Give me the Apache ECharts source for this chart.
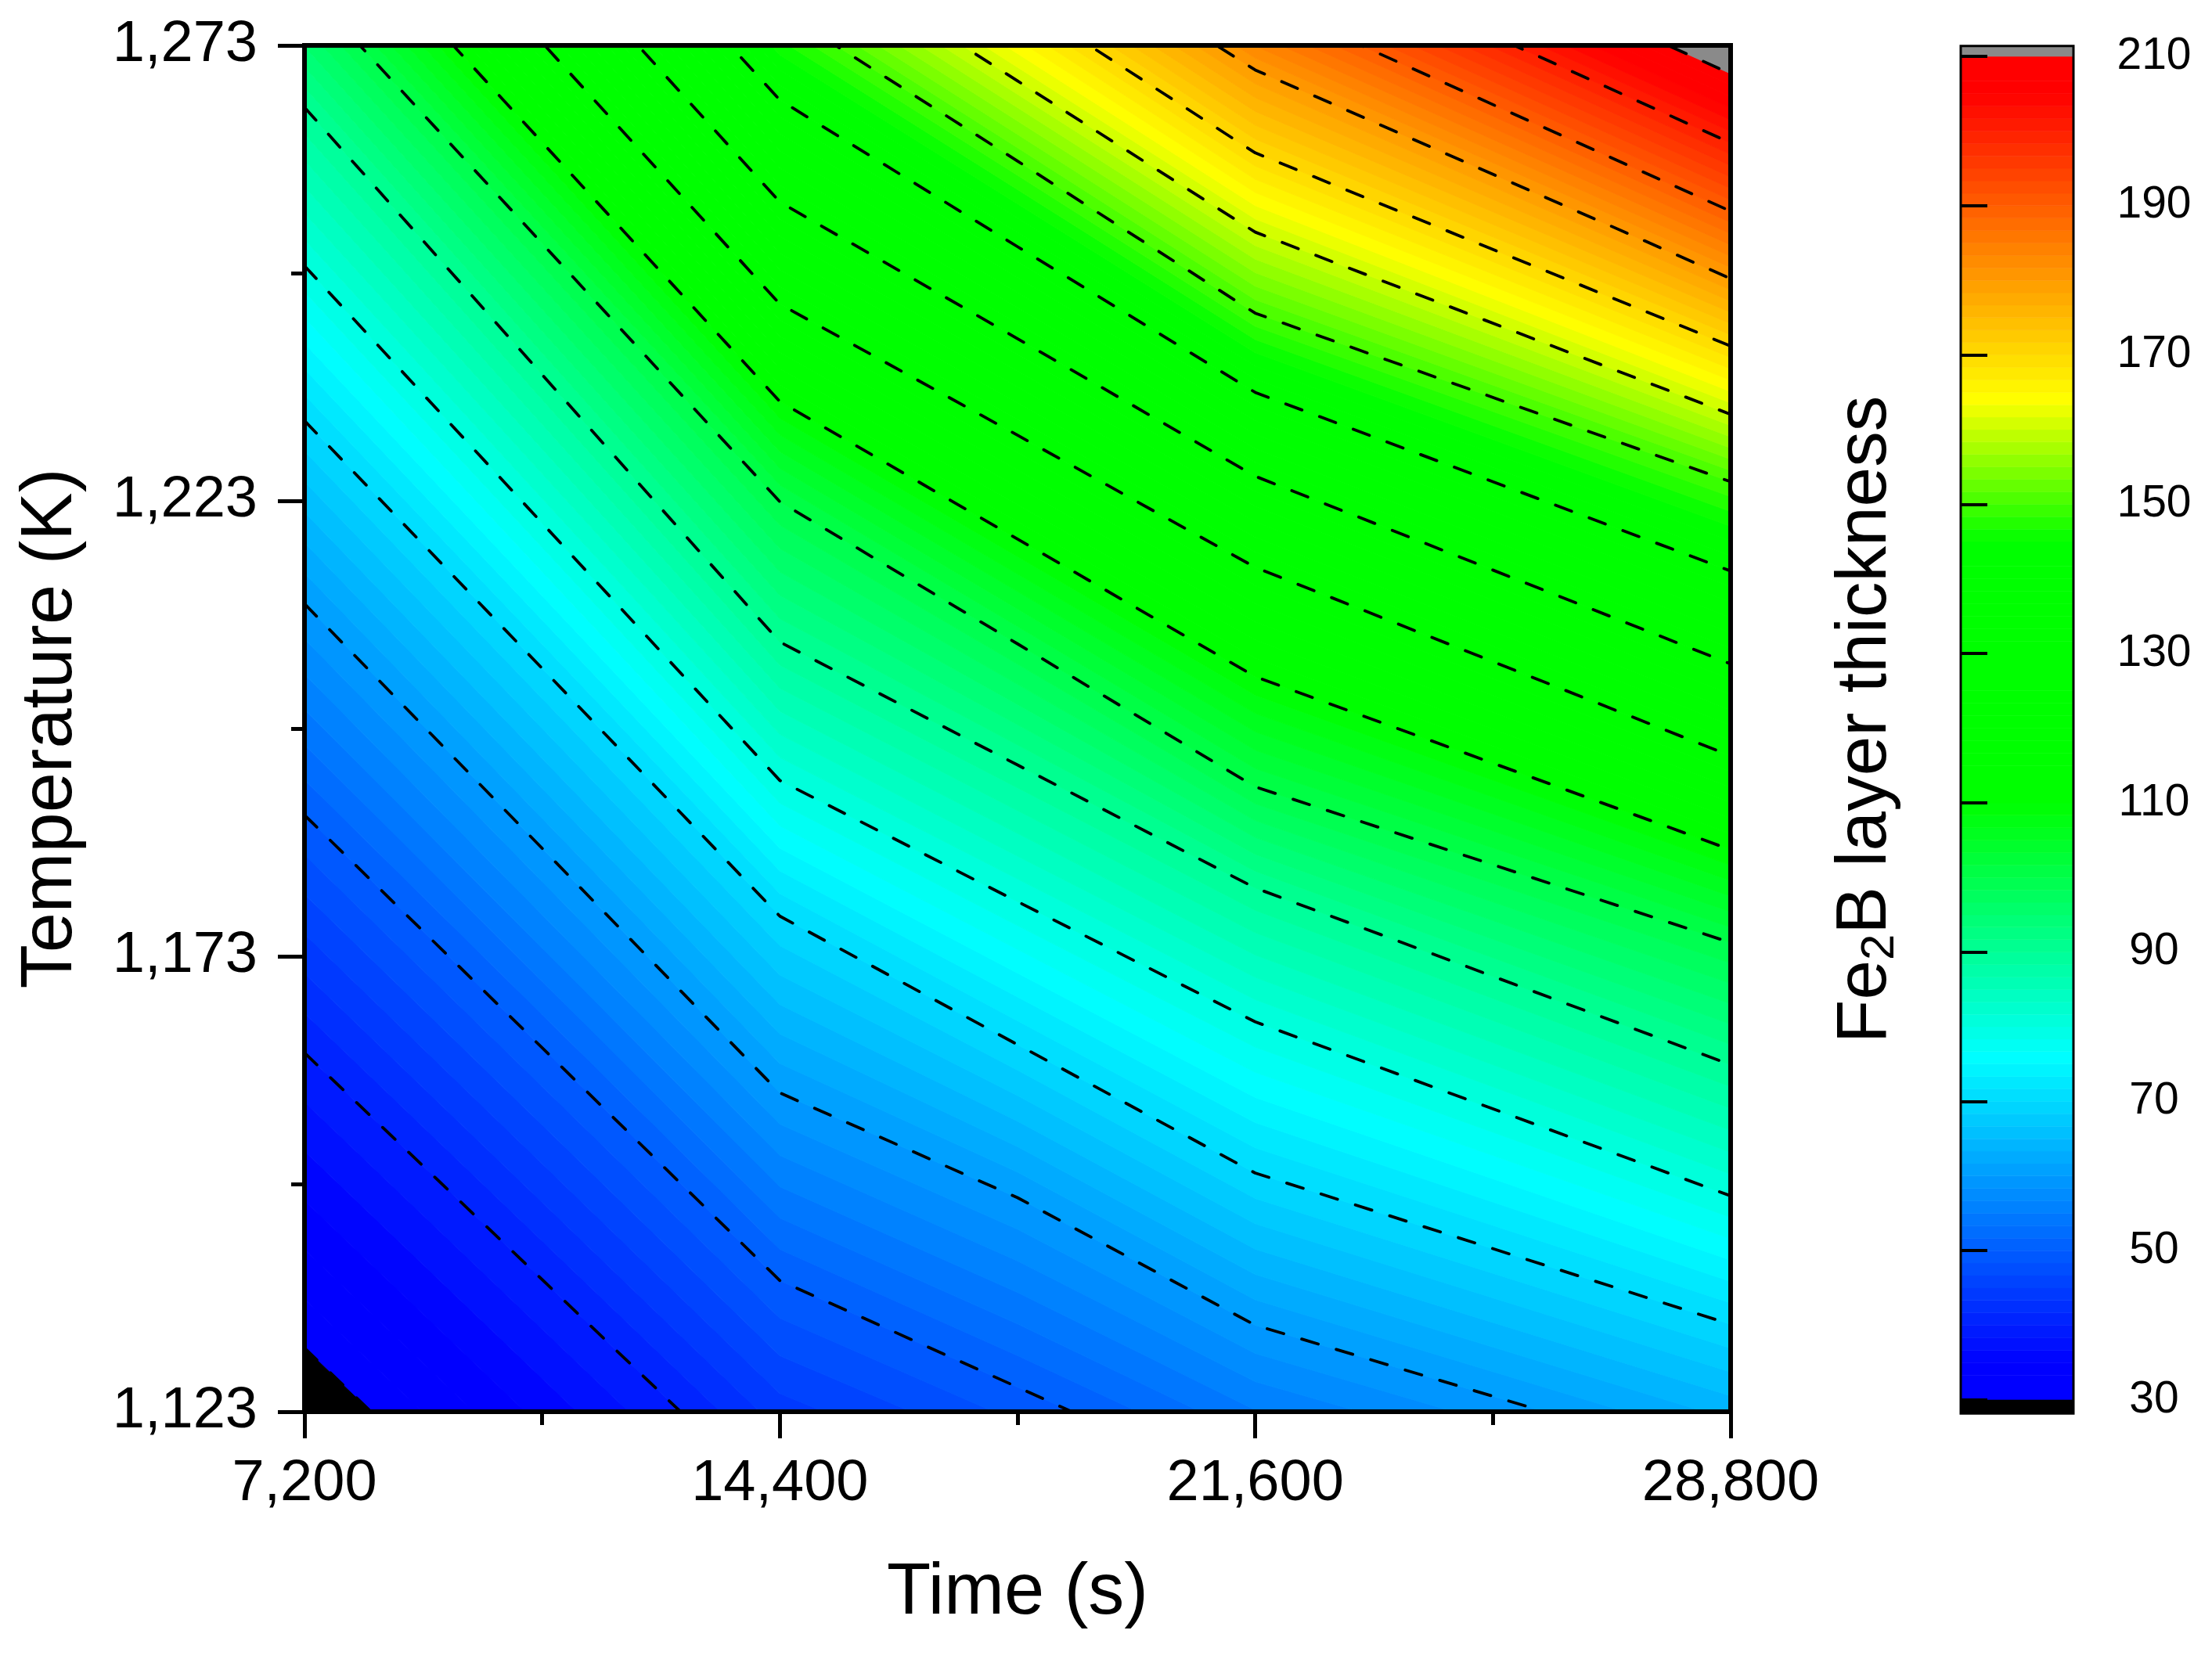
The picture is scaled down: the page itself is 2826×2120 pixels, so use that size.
<!DOCTYPE html>
<html>
<head>
<meta charset="utf-8">
<style>html,body{margin:0;padding:0;background:#fff}#chart{width:2826px;height:2120px}</style>
<script src="https://cdn.jsdelivr.net/npm/echarts@6/dist/echarts.min.js"></script>
</head>
<body>
<div id="chart"></div>
<script>
// The temperature (K) of every contour at five times (s).
// Values above 1273 or below 1123 lie outside the plotted frame.
const timeColumns = [7200, 14400, 18000, 21600, 28800];
const contour30  = [1130.0, 1079.9, 1064.9, 1051.2, 1037.4];
const contour40  = [1162.4, 1112.6, 1102.7, 1093.3, 1081.2];
const contour50  = [1188.5, 1137.4, 1125.7, 1113.9, 1100.1];
const contour60  = [1211.7, 1158.0, 1146.5, 1132.5, 1116.9];
const contour70  = [1231.8, 1177.4, 1163.3, 1149.2, 1132.6];
const contour80  = [1248.8, 1192.3, 1179.0, 1165.8, 1146.7];
const contour90  = [1266.2, 1207.5, 1194.0, 1180.5, 1161.1];
const contour100 = [1279.6, 1222.9, 1207.3, 1191.6, 1174.5];
const contour110 = [1290.8, 1233.9, 1218.8, 1203.7, 1184.7];
const contour120 = [1302.0, 1244.6, 1230.2, 1215.7, 1195.0];
const contour130 = [1313.4, 1255.8, 1240.8, 1225.7, 1205.1];
const contour140 = [1324.2, 1267.0, 1250.9, 1234.9, 1215.3];
const contour150 = [1333.7, 1276.9, 1260.3, 1243.6, 1225.1];
const contour160 = [1342.7, 1285.8, 1269.1, 1252.5, 1232.5];
const contour170 = [1351.8, 1294.9, 1278.1, 1261.2, 1240.0];
const contour180 = [1360.5, 1303.6, 1286.9, 1270.3, 1247.4];
const contour190 = [1368.4, 1311.6, 1294.9, 1278.2, 1254.8];
const contour200 = [1376.8, 1319.2, 1302.5, 1285.8, 1262.3];
const contour210 = [1384.5, 1327.0, 1310.2, 1293.4, 1269.9];

const contourLevels = [30, 40, 50, 60, 70, 80, 90, 100, 110, 120, 130, 140, 150, 160, 170, 180, 190, 200, 210];
const contourTemps = [contour30, contour40, contour50, contour60, contour70, contour80, contour90,
  contour100, contour110, contour120, contour130, contour140, contour150, contour160, contour170,
  contour180, contour190, contour200, contour210];

// Colour scale: thickness value -> rainbow stop
const stopValues = [30, 35, 76, 110, 145, 164, 205, 210];
const stopColors = [[0,0,255],[0,0,255],[0,255,255],[0,255,0],[0,255,0],[255,255,0],[255,0,0],[255,0,0]];
const bandCount = 108;
const belowColor = '#000000';
const aboveColor = '#8a8a8a';

const xTicks = [7200, 14400, 21600, 28800];
const yTicks = [1123, 1173, 1223, 1273];
const barTicks = [30, 50, 70, 90, 110, 130, 150, 170, 190, 210];

const xMin = xTicks[0], xMax = xTicks[3], yMin = yTicks[0], yMax = yTicks[3];
const barMin = barTicks[0], barMax = barTicks[9];
const barCapTop = 211.4, barCapBottom = 28.2;
const FONT = '"Liberation Sans", Arial, sans-serif';

function colorAt(v) {
  let i = 0;
  while (i < stopValues.length - 2 && v > stopValues[i + 1]) i++;
  const f = (v - stopValues[i]) / (stopValues[i + 1] - stopValues[i]);
  const c = stopColors[i].map((a, k) => Math.round(a + (stopColors[i + 1][k] - a) * f));
  return 'rgb(' + c.join(',') + ')';
}
function tempAt(v, col) {
  const n = contourLevels.length;
  let i = 0;
  while (i < n - 2 && v > contourLevels[i + 1]) i++;
  const f = (v - contourLevels[i]) / (contourLevels[i + 1] - contourLevels[i]);
  return contourTemps[i][col] + (contourTemps[i + 1][col] - contourTemps[i][col]) * f;
}

const bands = [];
for (let i = 0; i < bandCount; i++) {
  const lo = barMin + (barMax - barMin) * i / bandCount;
  const hi = barMin + (barMax - barMin) * (i + 1) / bandCount;
  bands.push({ lo, hi, color: colorAt((lo + hi) / 2) });
}

function comma(v) { return String(Math.round(v)).replace(/\B(?=(\d{3})+$)/g, ','); }

function renderField(params, api) {
  const idx = params.dataIndex;
  const pts = [];
  let color;
  if (idx === bands.length) {            // below the scale
    color = belowColor;
    timeColumns.forEach((t, c) => pts.push(api.coord([t, contourTemps[0][c]])));
    pts.push(api.coord([xMax, 1000]), api.coord([xMin, 1000]));
  } else if (idx === bands.length + 1) { // above the scale
    color = aboveColor;
    timeColumns.forEach((t, c) => pts.push(api.coord([t, contourTemps[contourTemps.length - 1][c]])));
    pts.push(api.coord([xMax, 1400]), api.coord([xMin, 1400]));
  } else {
    const b = bands[idx];
    color = b.color;
    timeColumns.forEach((t, c) => pts.push(api.coord([t, tempAt(b.lo, c)])));
    for (let c = timeColumns.length - 1; c >= 0; c--) pts.push(api.coord([timeColumns[c], tempAt(b.hi, c)]));
  }
  return { type: 'polygon', shape: { points: pts }, style: { fill: color, stroke: color, lineWidth: 1 } };
}

function renderBar(params, api) {
  const idx = params.dataIndex;
  let lo, hi, color;
  if (idx === bands.length) { lo = barCapBottom; hi = barMin; color = belowColor; }
  else if (idx === bands.length + 1) { lo = barMax; hi = barCapTop; color = aboveColor; }
  else { lo = bands[idx].lo; hi = bands[idx].hi; color = bands[idx].color; }
  const a = api.coord([0, hi]), b = api.coord([1, lo]);
  return { type: 'rect', shape: { x: a[0], y: a[1], width: b[0] - a[0], height: b[1] - a[1] },
    style: { fill: color, stroke: color, lineWidth: 0.6 } };
}

function renderBarFrame(params, api) {
  const a = api.coord([0, barCapTop]), b = api.coord([1, barCapBottom]);
  return { type: 'rect', shape: { x: a[0], y: a[1], width: b[0] - a[0], height: b[1] - a[1] },
    style: { fill: 'none', stroke: '#000', lineWidth: 3 } };
}

const fieldData = bands.map((b, i) => [i, i]).concat([[bands.length, 0], [bands.length + 1, 0]]);

const contourSeries = contourLevels.map((lv, k) => ({
  name: 'contour ' + lv,
  type: 'line',
  xAxisIndex: 0, yAxisIndex: 0,
  data: timeColumns.map((t, c) => [t, contourTemps[k][c]]),
  showSymbol: false, symbol: 'none', silent: true, animation: false, clip: true, z: 3,
  lineStyle: { color: '#000', width: 3.8, type: [22, 24], cap: 'round', join: 'round' }
}));

const thickLine = { show: true, onZero: false, lineStyle: { color: '#000', width: 6, cap: 'square' } };

const option = {
  backgroundColor: '#fff',
  animation: false,
  textStyle: { fontFamily: FONT, color: '#000' },
  grid: [
    { left: 389, top: 58, width: 1822, height: 1746, containLabel: false, outerBoundsMode: 'none' },
    { left: 2505, top: 72, width: 144, height: 1717, containLabel: false, outerBoundsMode: 'none' }
  ],
  xAxis: [
    { type: 'value', gridIndex: 0, min: xMin, max: xMax, interval: 7200, position: 'bottom', z: 6,
      axisLine: thickLine,
      axisTick: { show: true, length: 34, inside: false, lineStyle: { color: '#000', width: 5 } },
      minorTick: { show: true, splitNumber: 2, length: 17, lineStyle: { color: '#000', width: 5 } },
      splitLine: { show: false },
      axisLabel: { show: true, margin: 56, fontSize: 74, color: '#000', fontFamily: FONT, formatter: comma, hideOverlap: false },
      name: 'Time (s)', nameLocation: 'middle', nameGap: 187,
      nameTextStyle: { fontSize: 92, color: '#000', fontFamily: FONT } },
    { type: 'value', gridIndex: 0, min: xMin, max: xMax, interval: 7200, position: 'top', z: 6,
      axisLine: thickLine, axisTick: { show: false }, axisLabel: { show: false }, splitLine: { show: false } },
    { type: 'value', gridIndex: 1, min: 0, max: 1, show: false }
  ],
  yAxis: [
    { type: 'value', gridIndex: 0, min: yMin, max: yMax, interval: 50, position: 'left', z: 6,
      axisLine: thickLine,
      axisTick: { show: true, length: 34, lineStyle: { color: '#000', width: 5 } },
      minorTick: { show: true, splitNumber: 2, length: 17, lineStyle: { color: '#000', width: 5 } },
      splitLine: { show: false },
      axisLabel: { show: true, margin: 60, fontSize: 74, color: '#000', fontFamily: FONT, formatter: comma, hideOverlap: false, padding: [4, 0, 0, 0] },
      name: 'Temperature (K)', nameLocation: 'middle', nameGap: 277,
      nameTextStyle: { fontSize: 92, color: '#000', fontFamily: FONT } },
    { type: 'value', gridIndex: 0, min: yMin, max: yMax, interval: 50, position: 'right', z: 6,
      axisLine: thickLine, axisTick: { show: false }, axisLabel: { show: false }, splitLine: { show: false } },
    { type: 'value', gridIndex: 1, min: barMin, max: barMax, interval: 20, position: 'right', z: 6,
      axisLine: { show: false },
      axisTick: { show: true, length: 34, lineStyle: { color: '#000', width: 4 } },
      splitLine: { show: false },
      axisLabel: { show: true, margin: 103, align: 'center', fontSize: 57, color: '#000', fontFamily: FONT, hideOverlap: false, padding: [8, 0, 0, 0] } },
    { type: 'value', gridIndex: 1, min: barMin, max: barMax, interval: 20, position: 'left', z: 6,
      axisLine: { show: false }, axisTick: { show: false }, axisLabel: { show: false }, splitLine: { show: false },
      name: '{n|Fe}{s|2}{n|B layer thickness}', nameLocation: 'middle', nameGap: 73,
      nameTextStyle: { fontFamily: FONT, color: '#000', padding: [0, 0, 0, 22],
        rich: {
          n: { fontSize: 91, fontFamily: FONT, color: '#000' },
          s: { fontSize: 60, fontFamily: FONT, color: '#000', verticalAlign: 'bottom', padding: [36, 0, 0, 0] }
        } } }
  ],
  series: [
    { type: 'custom', name: 'field', xAxisIndex: 0, yAxisIndex: 0, clip: true, silent: true, z: 1,
      renderItem: renderField, data: fieldData, animation: false },
    ...contourSeries,
    { type: 'custom', name: 'scale', xAxisIndex: 2, yAxisIndex: 2, silent: true, z: 1,
      renderItem: renderBar, data: fieldData, animation: false },
    { type: 'custom', name: 'scale frame', xAxisIndex: 2, yAxisIndex: 2, silent: true, z: 2,
      renderItem: renderBarFrame, data: [[0, 0]], animation: false }
  ]
};
const chart = echarts.init(document.getElementById('chart'), null, { renderer: 'canvas', width: 2826, height: 2120 });
chart.setOption(option);
</script>
</body>
</html>
